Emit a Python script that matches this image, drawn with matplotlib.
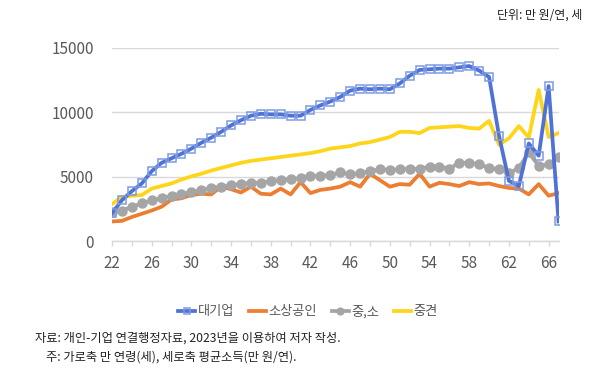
import matplotlib
matplotlib.use("Agg")
import matplotlib.pyplot as plt
from matplotlib.ticker import FixedLocator

plt.rcParams['font.family'] = ['Noto Sans CJK KR', 'DejaVu Sans']

ages = list(range(22, 68))
large = [2200, 3200, 3900, 4500, 5450, 6100, 6450, 6800, 7200, 7650,
         8050, 8500, 9000, 9400, 9750, 9900, 9850, 9850, 9750, 9750,
         10200, 10550, 10850, 11200, 11700, 11850, 11800, 11850, 11800, 12250,
         12850, 13300, 13350, 13400, 13400, 13500, 13600, 13250, 12750, 8200,
         4700, 4300, 7600, 6650, 12050, 1550]
small_biz = [1550, 1600, 1900, 2150, 2400, 2700, 3250, 3350, 3600, 3700,
             3650, 4250, 4050, 3800, 4250, 3700, 3650, 4100, 3650, 4600,
             3750, 4000, 4100, 4250, 4600, 4250, 5250, 4750, 4250, 4450,
             4400, 5250, 4250, 4550, 4450, 4300, 4600, 4450, 4500, 4300,
             4150, 4100, 3650, 4450, 3550, 3750]
sme = [2300, 2400, 2700, 2950, 3200, 3350, 3550, 3700, 3800, 4000,
       4150, 4250, 4350, 4450, 4550, 4550, 4700, 4750, 4850, 4900,
       5050, 5100, 5150, 5350, 5200, 5300, 5450, 5600, 5550, 5600,
       5600, 5650, 5800, 5800, 5650, 6100, 6100, 6000, 5700, 5600,
       5300, 5700, 6900, 5850, 6000, 6550]
midsize = [2900, 3450, 3550, 3600, 4100, 4300, 4500, 4800, 5050, 5250,
           5500, 5700, 5900, 6100, 6250, 6350, 6450, 6550, 6650, 6750,
           6850, 7000, 7200, 7300, 7400, 7600, 7700, 7900, 8100, 8500,
           8500, 8400, 8800, 8850, 8900, 8950, 8800, 8750, 9350, 7500,
           8000, 8950, 8050, 11750, 8100, 8400]

labels = ['대기업', '소상공인', '중,소', '중견']
x_labels = list(range(22, 67, 4))
y_ticks = [0, 5000, 10000, 15000]

fig = plt.figure(figsize=(6.0, 3.74), dpi=100)
ax = fig.add_axes([0.1867, 0.3543, 0.7442, 0.5174])

grid_c = '#D9D9D9'
txt_c = '#595959'

l1, = ax.plot(ages, large, color='#4F72D6', lw=2.7, marker='s', ms=6.2,
              mfc='none', mec='#7D9BE3', mew=1.1, zorder=5, label=labels[0])
l2, = ax.plot(ages, small_biz, color='#ED7D31', lw=2.7, zorder=2, label=labels[1])
l3, = ax.plot(ages, sme, color='#A5A5A5', lw=2.7, marker='o', ms=6.5,
              mec='#A5A5A5', mfc='#A5A5A5', zorder=3, label=labels[2])
l4, = ax.plot(ages, midsize, color='#FFD51A', lw=2.7, zorder=4, label=labels[3])

ax.set_xlim(22, 67)
ax.set_ylim(0, 15000)
ax.set_yticks(y_ticks)
ax.set_xticks(x_labels)
ax.xaxis.set_minor_locator(FixedLocator(list(range(24, 67, 4))))
ax.grid(axis='y', color=grid_c, lw=1.0, zorder=0)
ax.set_axisbelow(True)
for s in ['top', 'right', 'left']:
    ax.spines[s].set_visible(False)
ax.spines['bottom'].set_color(grid_c)
ax.spines['bottom'].set_linewidth(1.0)
ax.tick_params(axis='y', length=0, pad=13, labelsize=11, labelcolor=txt_c)
ax.tick_params(axis='x', which='both', direction='out', length=3.5, width=1.0,
               color=grid_c, labelsize=11, labelcolor=txt_c, pad=6.5)

leg = fig.legend(handles=[l1, l2, l3, l4], labels=labels, loc='center',
                 bbox_to_anchor=(308 / 600, 1 - 311.7 / 374), ncol=4,
                 frameon=False, fontsize=9.5, handlelength=1.3,
                 handletextpad=0.2, columnspacing=1.1, markerscale=0.75)
for t in leg.get_texts():
    t.set_color(txt_c)

fig.text(582 / 600, 1 - 15 / 374, '단위: 만 원/연, 세', ha='right', va='center',
         fontsize=8.6, color='#222222')
fig.text(35 / 600, 1 - 338.5 / 374, '자료: 개인-기업 연결행정자료, 2023년을 이용하여 저자 작성.',
         ha='left', va='center', fontsize=8.8, color='#222222')
fig.text(46.5 / 600, 1 - 356.7 / 374, '주: 가로축 만 연령(세), 세로축 평균소득(만 원/연).',
         ha='left', va='center', fontsize=8.8, color='#222222')

fig.savefig('out.png', dpi=100)
